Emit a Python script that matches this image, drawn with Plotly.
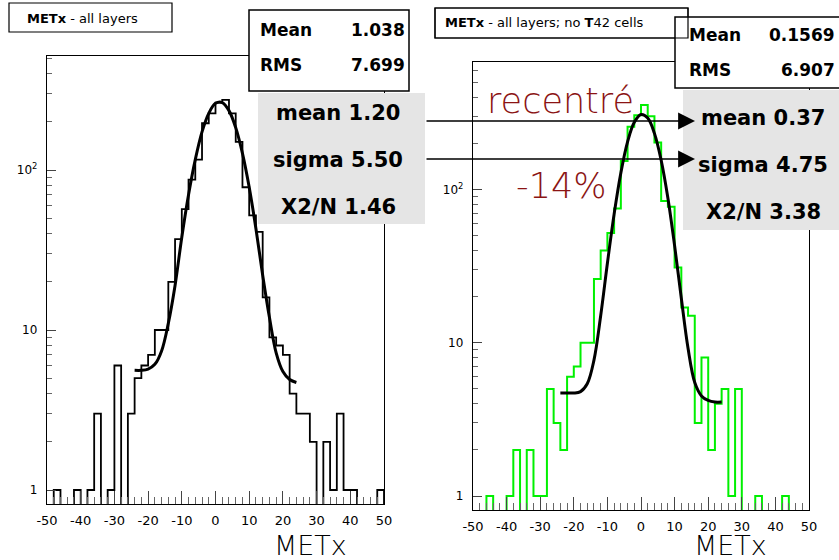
import plotly.graph_objects as go

W, H = 839, 560

# ---------------- data ----------------
bin_edges = list(range(-50, 52, 2))  # 50 bins of width 2 from -50 to 50

left_counts = [0, 1, 0, 0, 1, 0, 1, 3, 0, 1,
               6, 0, 3, 5, 6, 7, 10, 10, 20, 37,
               57, 87, 116, 196, 226, 264, 274, 226, 150, 78,
               52, 41, 16, 9, 8, 7, 4, 3, 3, 2,
               0, 2, 1, 3, 1, 1, 0, 0, 0, 1]

right_counts = [0, 0, 1, 0, 0, 1, 2, 0, 2, 1,
                1, 5, 3, 2, 6, 7, 10, 10, 26, 40,
                52, 75, 153, 256, 305, 355, 300, 202, 84, 77,
                31, 17, 15, 3, 8, 2, 4, 5, 1, 5,
                0, 0, 1, 0, 0, 0, 1, 0, 0, 0]

fit_x = [-24, -22, -20, -18, -16, -14, -12, -10, -8, -6, -4, -2, 0,
         2, 4, 6, 8, 10, 12, 14, 16, 18, 20, 22, 24]
left_fit = [5.6, 5.6, 5.7, 6.1, 7.4, 11, 19, 38, 70, 116, 173, 226, 261,
            264, 235, 184, 127, 78, 43, 22, 12, 7.2, 5.5, 4.9, 4.7]
right_fit = [4.7, 4.7, 4.7, 4.8, 5.4, 7.7, 15, 33, 69, 128, 204, 274, 308,
             292, 232, 155, 88, 43, 19.5, 9.2, 5.5, 4.5, 4.2, 4.1, 4.1]

x_tickvals = [-50, -40, -30, -20, -10, 0, 10, 20, 30, 40, 50]
x_ticktext = ["-50", "-40", "-30", "-20", "-10", "0", "10", "20", "30", "40", "50"]
y_tickvals = [1, 10, 100]
y_ticktext = ["1", "10", "10<sup>2</sup>"]
y_minor = [2, 3, 4, 5, 6, 7, 8, 9, 20, 30, 40, 50, 60, 70, 80, 90,
           200, 300, 400, 500, 600]

left_title = "<b>METx</b> - all layers"
right_title = "<b>METx</b> - all layers; no <b>T</b>42 cells"
left_stats = [("Mean", "1.038"), ("RMS", "7.699")]
right_stats = [("Mean", "0.1569"), ("RMS", "6.907")]
left_fit_text = ["mean 1.20", "sigma 5.50", "X2/N 1.46"]
right_fit_text = ["mean 0.37", "sigma 4.75", "X2/N 3.38"]

FLOOR = 0.3  # empty bins drawn below the axis floor


def px(x):
    return x / W


def py(y):
    return 1 - y / H


def step_xy(counts):
    xs = [bin_edges[0]] + bin_edges + [bin_edges[-1]]
    vals = [c if c > 0 else FLOOR for c in counts]
    ys = [FLOOR] + vals + [vals[-1]] + [FLOOR]
    return xs, ys


fig = go.Figure()

lx, ly = step_xy(left_counts)
fig.add_trace(go.Scatter(x=lx, y=ly, mode="lines", line=dict(shape="hv", color="black", width=1.8),
                         xaxis="x", yaxis="y", showlegend=False, hoverinfo="skip"))
fig.add_trace(go.Scatter(x=fit_x, y=left_fit, mode="lines", line=dict(shape="spline", color="black", width=3),
                         xaxis="x", yaxis="y", showlegend=False, hoverinfo="skip"))

rx, ry = step_xy(right_counts)
fig.add_trace(go.Scatter(x=rx, y=ry, mode="lines", line=dict(shape="hv", color="#00f000", width=2),
                         xaxis="x2", yaxis="y2", showlegend=False, hoverinfo="skip"))
fig.add_trace(go.Scatter(x=fit_x, y=right_fit, mode="lines", line=dict(shape="spline", color="black", width=3),
                         xaxis="x2", yaxis="y2", showlegend=False, hoverinfo="skip"))

tickfont = dict(family="DejaVu Sans", size=13, color="black")


def xaxis_style(domain, anchor):
    return dict(domain=domain, anchor=anchor, range=[-50, 50], tickmode="array",
                tickvals=x_tickvals, ticktext=x_ticktext, ticks="inside", ticklen=13,
                tickcolor="#444", tickwidth=1, showline=True, mirror=True, linecolor="black",
                linewidth=1.2, showgrid=False, zeroline=False, tickfont=tickfont,
                ticklabelstandoff=4, automargin=False,
                minor=dict(ticks="inside", dtick=2, tick0=-50, ticklen=7, tickcolor="#666", tickwidth=1))


def yaxis_style(domain, anchor, rng):
    return dict(domain=domain, anchor=anchor, type="log", range=rng, tickmode="array",
                tickvals=y_tickvals, ticktext=y_ticktext, ticks="inside", ticklen=9,
                tickcolor="#444", tickwidth=1, showline=True, mirror=True, linecolor="black",
                linewidth=1.2, showgrid=False, zeroline=False,
                tickfont=dict(family="DejaVu Sans", size=12, color="black"),
                ticklabelstandoff=6, automargin=False,
                minor=dict(ticks="inside", tickmode="array", tickvals=y_minor, ticklen=5,
                           tickcolor="#666", tickwidth=1))


fig.update_layout(
    width=W, height=H, autosize=False, margin=dict(l=0, r=0, t=0, b=0, pad=0),
    paper_bgcolor="white", plot_bgcolor="white",
    xaxis=xaxis_style([px(47), px(384)], "y"),
    yaxis=yaxis_style([py(504), py(56)], "x", [-0.0875, 2.7125]),
    xaxis2=xaxis_style([px(473), px(809)], "y2"),
    yaxis2=yaxis_style([py(510), py(62)], "x2", [-0.091, 2.831]),
)

shapes = []


def rect(x0, y0, x1, y1, fill, line_w=1.0, line_c="black"):
    shapes.append(dict(type="rect", xref="paper", yref="paper", x0=px(x0), x1=px(x1), y0=py(y1), y1=py(y0),
                       fillcolor=fill, line=dict(color=line_c, width=line_w), layer="above"))


rect(9, 3, 172, 32, "white", 1.2)            # left title box
rect(249, 10, 409, 91, "white", 1.5)         # left stat box
rect(258, 93, 425, 224, "#e5e5e5", 0)        # left fit box
rect(435, 8, 688, 38, "white", 1.2)          # right title box
rect(675, 17, 850, 88, "white", 1.5)         # right stat box
rect(435, 8, 688, 38, "rgba(0,0,0,0)", 1.2)  # right title border on top
rect(683, 90, 850, 230, "#e5e5e5", 0)        # right fit box
fig.update_layout(shapes=shapes)

ann = []


def text(x, y, s, size, xanchor="center", family="DejaVu Sans", color="black", weight=None):
    f = dict(family=family, size=size, color=color)
    if weight is not None:
        f["weight"] = weight
    ann.append(dict(x=px(x), y=py(y), xref="paper", yref="paper", text=s, showarrow=False,
                    xanchor=xanchor, yanchor="middle", font=f))


text(25, 18, left_title, 13, "left")
text(443, 23, right_title, 13, "left")

for i, (k, v) in enumerate(left_stats):
    text(258, 30 + 35 * i, "<b>%s</b>" % k, 17, "left")
    text(407, 30 + 35 * i, "<b>%s</b>" % v, 17, "right")
for i, (k, v) in enumerate(right_stats):
    text(687, 35 + 35 * i, "<b>%s</b>" % k, 17, "left")
    text(837, 35 + 35 * i, "<b>%s</b>" % v, 17, "right")

for i, s in enumerate(left_fit_text):
    text(338, 113 + 47 * i, "<b>%s</b>" % s, 21)
for i, s in enumerate(right_fit_text):
    text(763, 118 + 47 * i, "<b>%s</b>" % s, 21)

text(560, 101, "recentré", 35, color="#8B1414", weight=300)
text(561, 186, "-14%", 35, color="#8B1414", weight=300)
text(310, 545, "METx", 27, weight=300)
text(730, 545, "METx", 27, weight=300)

# arrows
for yy in (121, 159):
    ann.append(dict(x=px(695), y=py(yy), xref="paper", yref="paper", text="", showarrow=True,
                    ax=-(695 - 425), ay=0, axref="pixel", ayref="pixel",
                    arrowhead=2, arrowsize=2.6, arrowwidth=1.3, arrowcolor="black", standoff=0))

fig.update_layout(annotations=ann)

fig.write_html("out.html", config={"displayModeBar": False, "staticPlot": True},
               post_script="document.body.style.margin='0';document.body.style.padding='0';"
                           "document.body.style.overflow='hidden';")
